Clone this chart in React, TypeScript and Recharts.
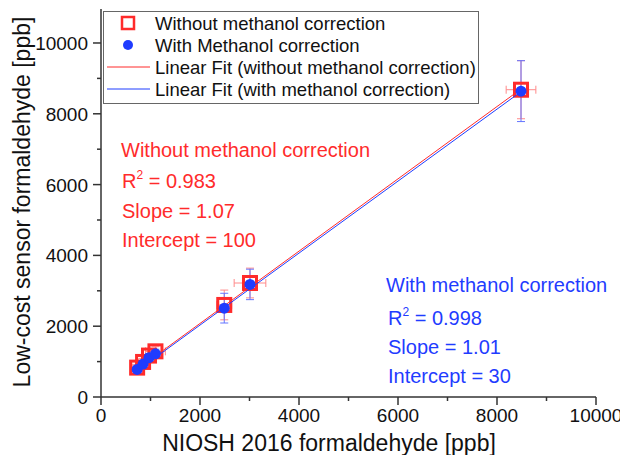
import {ErrorBar, Scatter, ScatterChart, XAxis, YAxis} from 'recharts';

// NIOSH reference values (x) and sensor readings (y), ppb
const niosh = [730, 850, 970, 1100, 2490, 3010, 8485];
const nioshErr = [90, 100, 120, 200, 150, 320, 300];
const sensorRaw = [830, 990, 1170, 1290, 2600, 3220, 8680];
const sensorRawErr = [90, 100, 120, 130, 420, 420, 820];
const sensorCorr = [780, 930, 1110, 1220, 2510, 3180, 8640];
const sensorCorrErr = [90, 100, 120, 130, 420, 430, 860];

// fit line end points
const fitRawX = [720, 8485];
const fitRawY = [770, 8700];
const fitCorrX = [720, 8485];
const fitCorrY = [730, 8625];

const xTicks = [0, 1000, 2000, 3000, 4000, 5000, 6000, 7000, 8000, 9000, 10000];
const yTicks = [0, 1000, 2000, 3000, 4000, 5000, 6000, 7000, 8000, 9000, 10000];

const RED = '#ff2b2b';
const RED_LIGHT = '#ff8a8a';
const BLUE = '#1f3cff';
const BLUE_LIGHT = '#6475ff';
const AXIS = '#333';
const FONT = '"Liberation Sans", Arial, sans-serif';

const rawData = niosh.map((x, i) => ({x, y: sensorRaw[i], ex: nioshErr[i], ey: sensorRawErr[i]}));
const corrData = niosh.map((x, i) => ({x, y: sensorCorr[i], ey: sensorCorrErr[i]}));
const fitRaw = fitRawX.map((x, i) => ({x, y: fitRawY[i]}));
const fitCorr = fitCorrX.map((x, i) => ({x, y: fitCorrY[i]}));

const SquareShape = (props: any) => {
  const {cx, cy} = props;
  return <rect x={cx - 6.5} y={cy - 6.5} width={13} height={13} fill="none" stroke={RED} strokeWidth={3} />;
};

const DotShape = (props: any) => {
  const {cx, cy} = props;
  return <circle cx={cx} cy={cy} r={5.5} fill={BLUE} />;
};

const NoShape = () => <g />;

const YTick = (props: any) => {
  const {x, y, payload} = props;
  const major = payload.value % 2000 === 0;
  return (
    <g>
      <line x1={x} x2={x - (major ? 8 : 4)} y1={y} y2={y} stroke={AXIS} strokeWidth={1.5} />
      {major && (
        <text x={x - 13} y={y + 7} textAnchor="end" fontSize={19} fontFamily={FONT} fill="#111">
          {payload.value}
        </text>
      )}
    </g>
  );
};

const XTick = (props: any) => {
  const {x, y, payload} = props;
  const major = payload.value % 2000 === 0;
  return (
    <g>
      <line x1={x} x2={x} y1={y} y2={y + (major ? 8 : 4)} stroke={AXIS} strokeWidth={1.5} />
      {major && (
        <text x={x} y={y + 25} textAnchor="middle" fontSize={19} fontFamily={FONT} fill="#111">
          {payload.value}
        </text>
      )}
    </g>
  );
};

function Overlay() {
  const rows = [
    {label: 'Without methanol correction', kind: 'square'},
    {label: 'With Methanol correction', kind: 'dot'},
    {label: 'Linear Fit (without methanol correction)', kind: 'redLine'},
    {label: 'Linear Fit (with methanol correction)', kind: 'blueLine'},
  ];
  return (
    <svg width={628} height={463} style={{position: 'absolute', left: 0, top: 0, pointerEvents: 'none'}}>
      {/* legend */}
      <rect x={103.5} y={11.5} width={375} height={92} fill="#fff" stroke="#666" strokeWidth={1} />
      {rows.map((r, i) => {
        const cy = 23 + i * 22;
        return (
          <g key={r.label}>
            {r.kind === 'square' && (
              <rect x={122} y={cy - 6} width={12} height={12} fill="none" stroke={RED} strokeWidth={2.5} />
            )}
            {r.kind === 'dot' && <circle cx={128} cy={cy} r={5} fill={BLUE} />}
            {r.kind === 'redLine' && <line x1={107} x2={150} y1={cy} y2={cy} stroke={RED} strokeWidth={1} />}
            {r.kind === 'blueLine' && <line x1={107} x2={150} y1={cy} y2={cy} stroke={BLUE} strokeWidth={1} />}
            <text x={155} y={cy + 6.5} fontSize={18.5} fontFamily={FONT} fill="#111">
              {r.label}
            </text>
          </g>
        );
      })}

      {/* fit statistics */}
      <g fontFamily={FONT} fontSize={20} fill={RED}>
        <text x={121} y={157}>Without methanol correction</text>
        <text x={122} y={188}>
          R<tspan fontSize={12} dy={-9}>2</tspan>
          <tspan dy={9}> = 0.983</tspan>
        </text>
        <text x={122} y={218}>Slope = 1.07</text>
        <text x={122} y={247}>Intercept = 100</text>
      </g>
      <g fontFamily={FONT} fontSize={20} fill={BLUE}>
        <text x={386} y={292}>With methanol correction</text>
        <text x={388} y={325}>
          R<tspan fontSize={12} dy={-9}>2</tspan>
          <tspan dy={9}> = 0.998</tspan>
        </text>
        <text x={388} y={354}>Slope = 1.01</text>
        <text x={388} y={383}>Intercept = 30</text>
      </g>

      {/* axis titles */}
      <text x={329} y={451} textAnchor="middle" fontSize={23} fontFamily={FONT} fill="#111">
        NIOSH 2016 formaldehyde [ppb]
      </text>
      <text
        x={30}
        y={202}
        textAnchor="middle"
        fontSize={23}
        fontFamily={FONT}
        fill="#111"
        transform="rotate(-90, 30, 202)"
      >
        Low-cost sensor formaldehyde [ppb]
      </text>
    </svg>
  );
}

export default function App() {
  return (
    <div style={{position: 'relative', width: 628, height: 463, margin: -8, background: '#fff'}}>
      <ScatterChart width={628} height={463} margin={{top: 9, right: 32, bottom: 16, left: 11}}>
        <XAxis
          type="number"
          dataKey="x"
          domain={[0, 10000]}
          ticks={xTicks}
          interval={0}
          tickSize={0}
          tickMargin={0}
          tickLine={false}
          tick={<XTick />}
          height={50}
          stroke={AXIS}
          strokeWidth={1.5}
          allowDataOverflow
        />
        <YAxis
          type="number"
          dataKey="y"
          domain={[0, 10960]}
          ticks={yTicks}
          interval={0}
          tickSize={0}
          tickMargin={0}
          tickLine={false}
          tick={<YTick />}
          width={90}
          stroke={AXIS}
          strokeWidth={1.5}
          allowDataOverflow
        />
        <Scatter data={rawData} shape={<SquareShape />} isAnimationActive={false}>
          <ErrorBar dataKey="ex" direction="x" width={4} stroke={RED_LIGHT} strokeWidth={1} isAnimationActive={false} />
          <ErrorBar dataKey="ey" direction="y" width={4} stroke={RED_LIGHT} strokeWidth={1} isAnimationActive={false} />
        </Scatter>
        <Scatter data={fitRaw} line={{stroke: RED, strokeWidth: 1}} shape={<NoShape />} isAnimationActive={false} />
        <Scatter data={fitCorr} line={{stroke: BLUE, strokeWidth: 1}} shape={<NoShape />} isAnimationActive={false} />
        <Scatter data={corrData} shape={<DotShape />} isAnimationActive={false}>
          <ErrorBar dataKey="ey" direction="y" width={4} stroke={BLUE_LIGHT} strokeWidth={1} isAnimationActive={false} />
        </Scatter>
      </ScatterChart>
      <Overlay />
    </div>
  );
}
